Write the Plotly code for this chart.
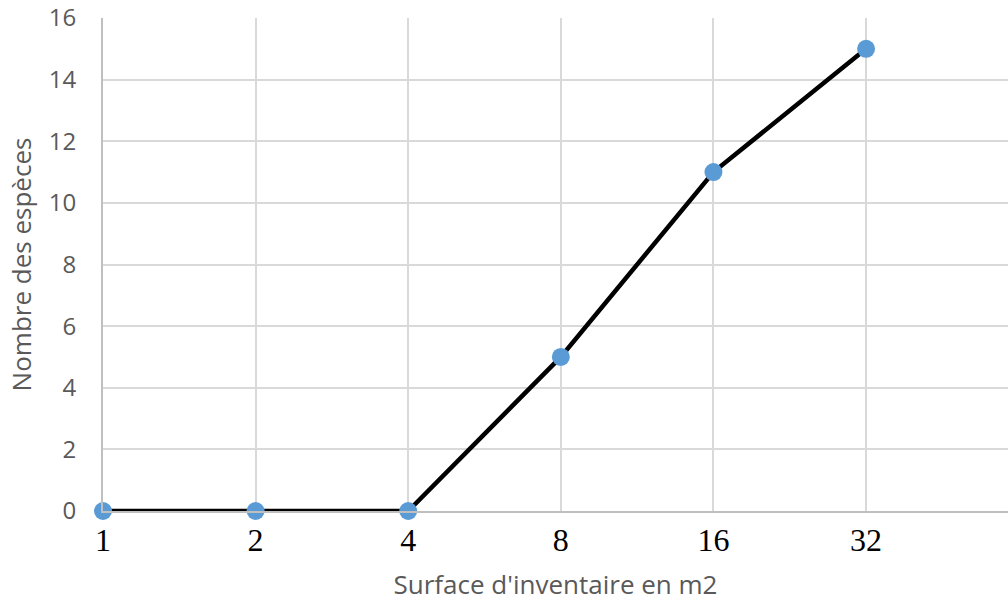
import plotly.graph_objects as go
import math

surface = [1, 2, 4, 8, 16, 32]
especes = [0, 0, 0, 5, 11, 15]
x_labels = ["1", "2", "4", "8", "16", "32"]
y_ticks = [0, 2, 4, 6, 8, 10, 12, 14, 16]

fig = go.Figure()
fig.add_trace(go.Scatter(
    x=surface, y=especes, mode="lines+markers",
    line=dict(color="black", width=4.5),
    marker=dict(color="#5B9BD5", size=18),
    cliponaxis=False,
))

fig.update_layout(
    width=1008, height=602,
    margin=dict(l=103, r=0, t=18, b=91),
    paper_bgcolor="white", plot_bgcolor="white",
    showlegend=False,
    xaxis=dict(
        type="log", range=[0, math.log10(2 ** 5.93)],
        tickvals=surface, ticktext=x_labels,
        tickfont=dict(family="Liberation Serif", size=32, color="black"),
        showgrid=True, gridcolor="#d9d9d9", gridwidth=2,
        showline=True, linecolor="#bfbfbf", linewidth=2,
        zeroline=False, ticks="",
        title=dict(text="Surface d'inventaire en m2",
                   font=dict(family="Open Sans", size=26, color="#595959"),
                   standoff=22),
    ),
    yaxis=dict(
        range=[0, 16], tickvals=y_ticks,
        tickfont=dict(family="Open Sans", size=24, color="#595959"),
        showgrid=True, gridcolor="#d9d9d9", gridwidth=2,
        showline=True, linecolor="#bfbfbf", linewidth=2,
        zeroline=False, ticks="outside", ticklen=20, tickcolor="rgba(0,0,0,0)",
        title=dict(text="Nombre des espèces",
                   font=dict(family="Open Sans", size=26, color="#595959"),
                   standoff=10),
    ),
)

fig.write_html(
    "out.html",
    config={"displayModeBar": False},
    post_script="document.body.style.margin='0';document.body.style.overflow='hidden';",
)
